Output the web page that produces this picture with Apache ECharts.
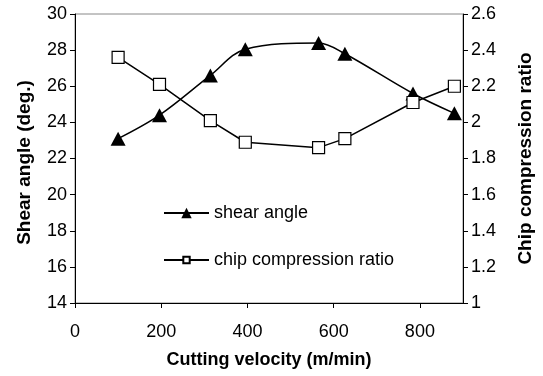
<!DOCTYPE html>
<html><head><meta charset="utf-8">
<script src="https://cdn.jsdelivr.net/npm/echarts@6/dist/echarts.min.js"></script>
<style>html,body{margin:0;padding:0;background:#fff}#c{width:543px;height:376px}</style>
</head><body><div id="c"></div>
<script>
const velocity = [100, 196, 314, 395, 565, 626, 784, 880];
const shearAngle = [23.1, 24.4, 26.6, 28.05, 28.4, 27.8, 25.6, 24.5];
const compressionRatio = [2.36, 2.21, 2.01, 1.89, 1.86, 1.91, 2.11, 2.2];
const xTicks = [0, 200, 400, 600, 800];
const leftTicks = [14, 16, 18, 20, 22, 24, 26, 28, 30];
const rightTicks = [1, 1.2, 1.4, 1.6, 1.8, 2, 2.2, 2.4, 2.6];

const FONT = 'Arial, "Liberation Sans", sans-serif';
const chart = echarts.init(document.getElementById('c'), null, {renderer: 'canvas'});
const axLine = {show: true, onZero: false, lineStyle: {color: '#000', width: 1}};
const lbl = {color: '#000', fontFamily: FONT, fontSize: 18};

chart.setOption({
  animation: false,
  backgroundColor: '#fff',
  grid: {left: 75, right: 73, top: 14, bottom: 73, show: true, borderColor: '#888', borderWidth: 1},
  xAxis: {
    type: 'value', min: xTicks[0], max: 900, interval: 200,
    axisLine: axLine, axisTick: {show: true, length: 5, lineStyle: {color: '#000'}},
    splitLine: {show: false},
    axisLabel: Object.assign({margin: 20, showMaxLabel: false, formatter: v => xTicks.includes(v) ? String(v) : ''}, lbl),
    name: 'Cutting velocity (m/min)', nameLocation: 'middle', nameGap: 48,
    nameTextStyle: {color: '#000', fontFamily: FONT, fontSize: 18, fontWeight: 'bold'}
  },
  yAxis: [
    {
      type: 'value', position: 'left', min: leftTicks[0], max: leftTicks[leftTicks.length - 1], interval: 2,
      axisLine: axLine, axisTick: {show: true, length: 5, lineStyle: {color: '#000'}},
      splitLine: {show: false},
      axisLabel: Object.assign({margin: 8}, lbl),
      name: 'Shear angle (deg.)', nameLocation: 'middle', nameRotate: 90, nameGap: 41,
      nameTextStyle: {color: '#000', fontFamily: FONT, fontSize: 19, fontWeight: 'bold', padding: [0, 8, 0, 0]}
    },
    {
      type: 'value', position: 'right', min: rightTicks[0], max: rightTicks[rightTicks.length - 1], interval: 0.2,
      axisLine: axLine, axisTick: {show: true, length: 5, lineStyle: {color: '#000'}},
      splitLine: {show: false},
      axisLabel: Object.assign({margin: 8, formatter: v => String(Math.round(v * 10) / 10)}, lbl),
      name: 'Chip compression ratio', nameLocation: 'middle', nameRotate: 90, nameGap: 53,
      nameTextStyle: {color: '#000', fontFamily: FONT, fontSize: 19, fontWeight: 'bold'}
    },
    {
      type: 'value', position: 'right', min: rightTicks[0], max: rightTicks[rightTicks.length - 1], interval: 0.2,
      axisLine: {show: false}, axisTick: {show: true, inside: true, length: 5, lineStyle: {color: '#000'}},
      splitLine: {show: false}, axisLabel: {show: false}
    }
  ],
  legend: [
    {
      data: ['shear angle'], orient: 'vertical', left: 158, top: 199,
      itemWidth: 45, itemHeight: 13, itemGap: 0,
      textStyle: {color: '#000', fontFamily: FONT, fontSize: 18}
    },
    {
      data: ['chip compression ratio'], orient: 'vertical', left: 158, top: 246,
      itemWidth: 45, itemHeight: 8, itemGap: 0,
      textStyle: {color: '#000', fontFamily: FONT, fontSize: 18}
    }
  ],
  series: [
    {
      name: 'shear angle', type: 'line', yAxisIndex: 0, smooth: 0.35,
      data: velocity.map((v, i) => [v, shearAngle[i]]),
      symbol: 'triangle', symbolSize: [15, 14],
      lineStyle: {color: '#000', width: 1.5},
      itemStyle: {color: '#000', borderColor: '#000', borderWidth: 0}
    },
    {
      name: 'chip compression ratio', type: 'line', yAxisIndex: 1,
      data: velocity.map((v, i) => [v, compressionRatio[i]]),
      symbol: 'rect', symbolSize: 12,
      lineStyle: {color: '#000', width: 1.5},
      itemStyle: {color: '#fff', borderColor: '#000', borderWidth: 1.2}
    }
  ]
});
</script></body></html>
